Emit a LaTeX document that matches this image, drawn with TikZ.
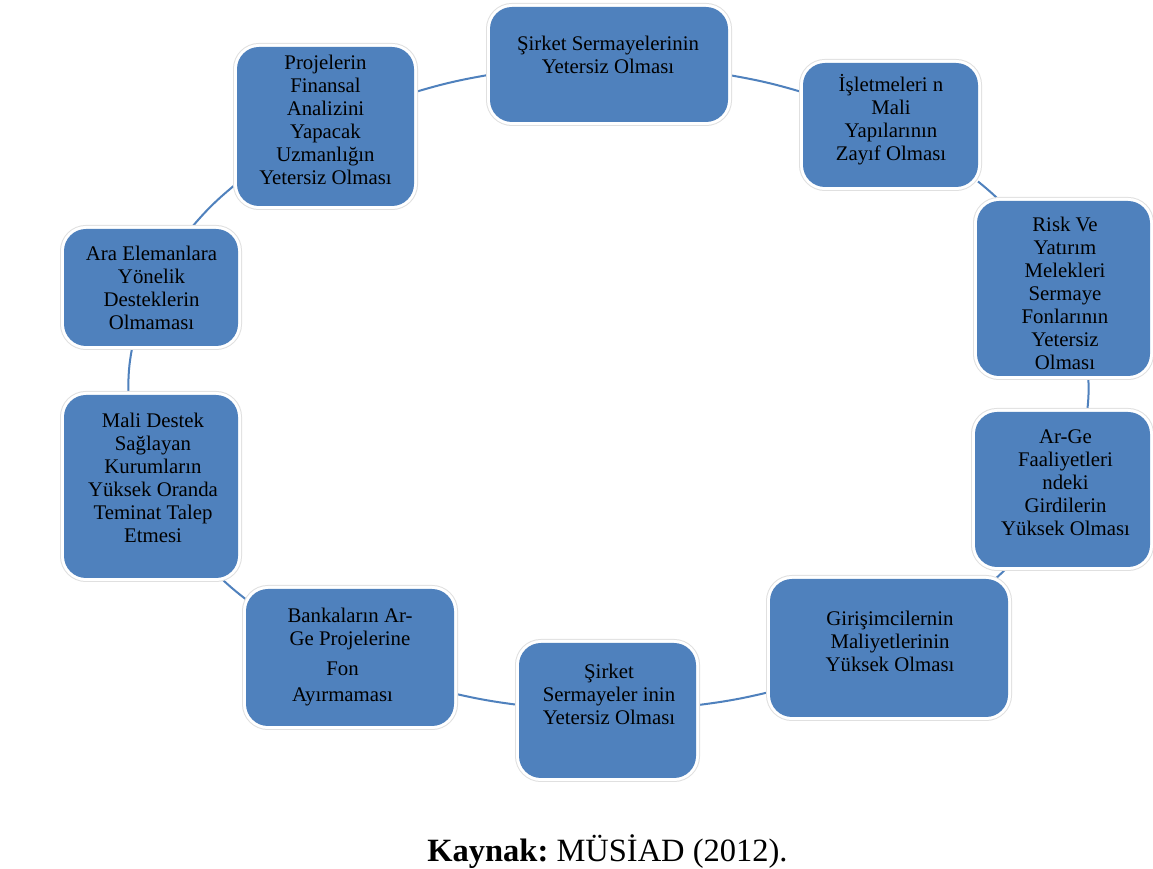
\documentclass[tikz,border=0pt]{standalone}
\usepackage{fontspec}
\setmainfont{Liberation Serif}
\usetikzlibrary{backgrounds}
\definecolor{boxblue}{HTML}{4F81BD}
\definecolor{linkblue}{HTML}{4F81BD}
\tikzset{
  cause/.style={rounded corners=22pt, fill=boxblue, inner sep=0pt, outer sep=0pt,
    preaction={draw=black!12, line width=8pt},
    preaction={draw=white, line width=6pt}},
  txt/.style={align=center, inner sep=0pt, text=black,
    font=\fontsize{20.8}{23}\selectfont},
  link/.style={draw=linkblue, line width=2pt},
}
\begin{document}
\begin{tikzpicture}[x=1pt,y=1pt]
\useasboundingbox (0,0) rectangle (1153,869);

% boxes of the cycle, clockwise from the upper left
\node[cause, minimum width=177pt, minimum height=159pt] (b1)  at (325.5,742.5) {};
\node[cause, minimum width=238pt, minimum height=115pt] (b2)  at (609,804.5) {};
\node[cause, minimum width=175pt, minimum height=124pt] (b3)  at (890.5,744) {};
\node[cause, minimum width=173pt, minimum height=175pt] (b4)  at (1063.5,580.5) {};
\node[cause, minimum width=175pt, minimum height=155pt] (b5)  at (1062.5,379.5) {};
\node[cause, minimum width=238pt, minimum height=138pt] (b6)  at (889,221) {};
\node[cause, minimum width=177pt, minimum height=135pt] (b7)  at (607.5,158.5) {};
\node[cause, minimum width=208pt, minimum height=137pt] (b8)  at (350,211.5) {};
\node[cause, minimum width=174pt, minimum height=183pt] (b9)  at (151,382.5) {};
\node[cause, minimum width=174pt, minimum height=117pt] (b10) at (151,581.5) {};

% box texts
\node[txt] (t1) at (325.5,749) {Projelerin\\Finansal\\Analizini\\Yapacak\\Uzmanlığın\\Yetersiz Olması};
\node[txt] (t2) at (608,814) {Şirket Sermayelerinin\\Yetersiz Olması};
\node[txt] (t3) at (891,749) {İşletmeleri n\\Mali\\Yapılarının\\Zayıf Olması};
\node[txt] (t4) at (1065,576) {Risk Ve\\Yatırım\\Melekleri\\Sermaye\\Fonlarının\\Yetersiz\\Olması};
\node[txt] (t5) at (1065.5,386.5) {Ar-Ge\\Faaliyetleri\\ndeki\\Girdilerin\\Yüksek Olması};
\node[txt] (t6) at (890,227.5) {Girişimcilernin\\Maliyetlerinin\\Yüksek Olması};
\node[txt] (t7) at (609,175) {Şirket\\Sermayeler inin\\Yetersiz Olması};
\node[txt] (t8a) at (350,240) {Bankaların Ar-\\Ge Projelerine};
\node[txt, font=\fontsize{20.8}{26.7}\selectfont] (t8b) at (342.5,185) {Fon\\Ayırmaması};
\node[txt] (t9) at (153,391) {Mali Destek\\Sağlayan\\Kurumların\\Yüksek Oranda\\Teminat Talep\\Etmesi};
\node[txt] (t10) at (151.5,581) {Ara Elemanlara\\Yönelik\\Desteklerin\\Olmaması};

% page ground and the arcs of the cycle, behind the boxes
\begin{scope}[on background layer]
\fill[white] (0,0) rectangle (1153,869);
\draw[link] ([yshift=34.1]b1.east) to[out=16.6,in=189.7] ([yshift=-10.2]b2.west);
\draw[link] ([yshift=-10.4]b2.east) to[out=-9.8,in=163.4] ([yshift=32.6]b3.west);
\draw[link] ([yshift=5.5]b3.south east) to[out=-39.1,in=136.5] ([xshift=23.2]b4.north west);
\draw[link] ([xshift=24.7]b4.south) to[out=-86.9,in=83.6] ([xshift=24.6]b5.north);
\draw[link] ([xshift=-54.7]b5.south) to[out=-134.8,in=42.5] ([xshift=-12.8]b6.north east);
\draw[link] ([yshift=-43.9]b6.west) to[out=-166.5,in=7.1] ([yshift=5.2]b7.east);
\draw[link] ([yshift=5.5]b7.west) to[out=172.7,in=-12.9] ([yshift=-36]b8.east);
\draw[link] ([yshift=-10.4]b8.north west) to[out=142.2,in=-42.7] ([xshift=-17.3]b9.south east);
\draw[link] ([xshift=-22.4]b9.north) to[out=91.9,in=259.1] ([xshift=-18.5]b10.south);
\draw[link] ([xshift=39.4]b10.north) to[out=50.1,in=219.4] ([yshift=-56.7]b1.west);
\end{scope}

% source line
\node[inner sep=0pt, font=\fontsize{32.5}{36}\selectfont] (src) at (607.5,17)
  {\textbf{Kaynak:}~MÜSİAD (2012).};
\end{tikzpicture}
\end{document}
